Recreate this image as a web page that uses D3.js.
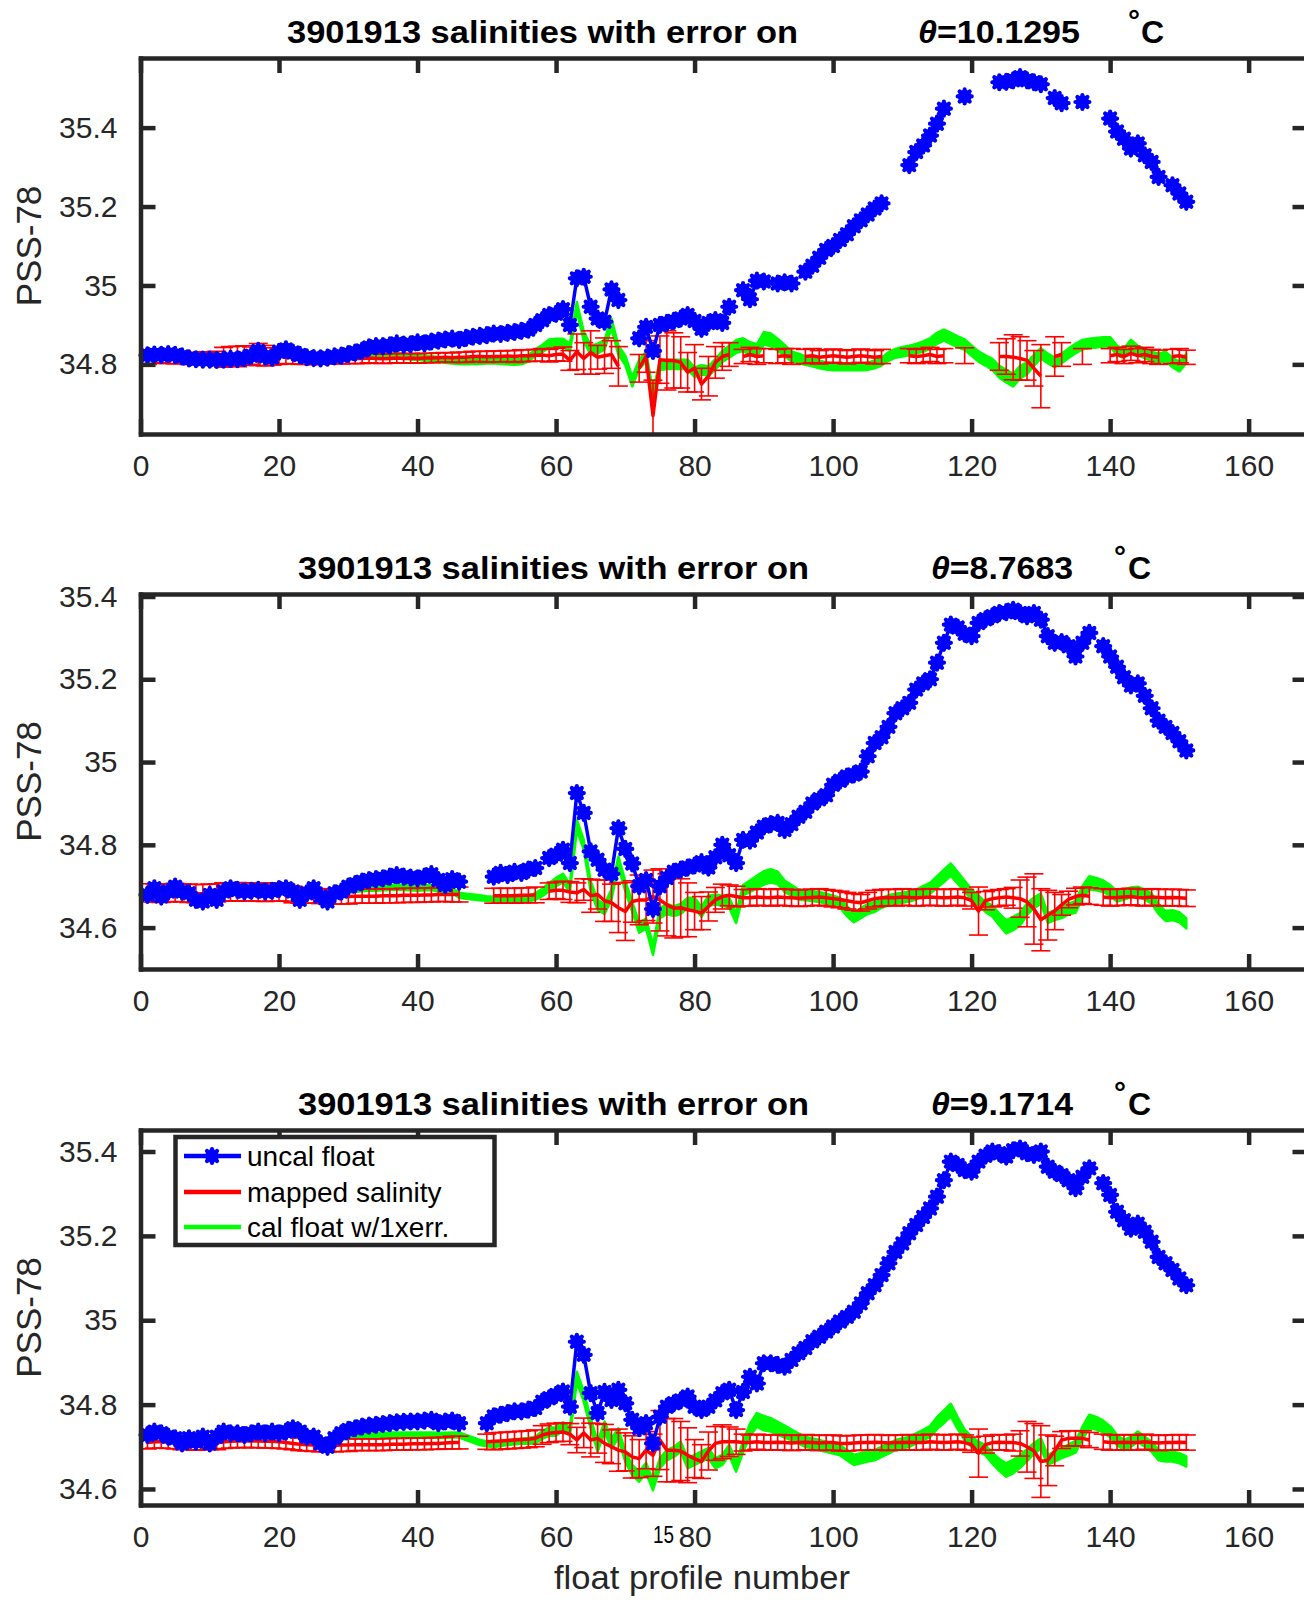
<!DOCTYPE html>
<html><head><meta charset="utf-8">
<script src="https://cdn.jsdelivr.net/npm/d3@7"></script>
<style>body{margin:0;background:#fff;}svg{display:block;}text{font-family:"Liberation Sans",Arial,Helvetica,sans-serif;}</style>
</head><body>
<script>
// ---------------- DATA ----------------
const profileNo = [1,2,3,4,5,6,7,8,9,10,11,12,13,14,15,16,17,18,19,20,21,22,23,24,25,26,27,28,29,30,31,32,33,34,35,36,37,38,39,40,41,42,43,44,45,46,47,48,49,50,51,52,53,54,55,56,57,58,59,60,61,62,63,64,65,66,67,68,69,70,71,72,73,74,75,76,77,78,79,80,81,82,83,84,85,86,87,88,89,90,91,92,93,94,95,96,97,98,99,100,101,102,103,104,105,106,107,108,109,110,111,112,113,114,115,116,117,118,119,120,121,122,123,124,125,126,127,128,129,130,131,132,133,134,135,136,137,138,139,140,141,142,143,144,145,146,147,148,149,150,151];
const xTicks = [0,20,40,60,80,100,120,140,160];
const xTickLabels = ["0","20","40","60","80","100","120","140","160"];
const titleMain = "3901913 salinities with error on";
const thetaVals = ["10.1295","8.7683","9.1714"];
const yTicks1 = [34.8,35,35.2,35.4];
const yTicks2 = [34.6,34.8,35,35.2,35.4];
const yTicks3 = [34.6,34.8,35,35.2,35.4];
const yTickLabels1 = ["34.8","35","35.2","35.4"];
const yTickLabels2 = ["34.6","34.8","35","35.2","35.4"];
const yTickLabels3 = ["34.6","34.8","35","35.2","35.4"];
const legendLabels = ["uncal float","mapped salinity","cal float w/1xerr."];

// Panel 1 (theta = 10.1295)
const p1Uncal = [34.823,34.825,34.824,34.826,34.824,34.82,34.815,34.813,34.812,34.812,
34.811,34.812,34.814,34.813,34.816,34.822,34.834,34.82,34.817,34.832,
34.838,34.83,34.824,34.818,34.816,34.815,34.817,34.82,34.822,34.826,
34.83,34.835,34.843,34.846,34.846,34.848,34.853,34.85,34.851,34.856,
34.853,34.858,34.86,34.863,34.865,34.862,34.867,34.87,34.872,34.874,
34.878,34.877,34.88,34.882,34.885,34.888,34.9,34.912,34.925,34.928,
34.94,34.9,35.018,35.022,34.946,34.916,34.908,34.99,34.963,null,
null,34.866,34.895,34.834,34.9,34.905,34.91,34.916,34.925,34.91,
34.89,34.905,34.912,34.905,34.946,null,34.988,34.965,35.012,35.01,
null,35.005,35.008,35.005,null,35.035,35.05,35.07,35.09,35.1,
35.115,35.13,35.15,35.165,35.18,35.195,35.208,null,null,null,
35.305,35.338,35.355,35.38,35.41,35.448,null,null,35.479,null,
null,null,null,35.515,35.516,35.52,35.528,35.52,35.515,35.51,
null,35.475,35.462,null,null,35.465,null,null,null,35.423,
35.39,35.372,35.347,35.36,35.33,35.313,35.275,null,35.254,35.233,35.212];
const p1Mapped = [34.818,34.82,34.82,34.818,34.816,34.817,34.815,34.815,34.816,34.815,
34.815,34.818,34.82,34.82,34.822,34.822,34.825,34.822,34.82,34.82,
34.818,34.817,34.815,34.815,34.814,34.815,34.815,34.816,34.815,34.815,
34.815,34.815,34.816,34.815,34.814,34.815,34.816,34.815,34.816,34.815,
34.816,34.816,34.817,34.818,34.817,34.818,34.818,34.82,34.82,34.819,
34.82,34.82,34.821,34.82,34.822,34.822,34.823,34.824,34.822,34.825,
34.826,34.81,34.832,34.815,34.83,34.818,34.822,34.825,34.795,null,
null,34.79,34.82,34.67,34.812,34.81,34.81,34.805,34.78,34.79,
34.75,34.77,34.805,34.82,34.825,null,34.82,34.825,34.82,34.822,
null,34.82,34.822,34.82,null,34.82,34.822,34.818,34.82,34.822,
34.82,34.818,34.82,34.822,34.82,34.818,34.82,null,null,null,
34.822,34.82,34.822,34.825,34.82,34.822,null,null,34.822,null,
null,null,null,34.82,34.82,34.818,34.815,34.81,34.79,34.77,
null,34.82,34.825,null,null,34.82,null,null,null,34.822,
34.825,34.82,34.828,34.822,34.825,34.82,34.818,null,34.82,34.822,34.818];
const p1MapErr = [0.018,0.018,0.016,0.016,0.015,0.015,0.015,0.015,0.016,0.016,
0.018,0.025,0.025,0.026,0.025,0.022,0.028,0.026,0.022,0.02,
0.016,0.016,0.015,0.015,0.015,0.014,0.014,0.014,0.014,0.013,
0.013,0.013,0.012,0.012,0.012,0.012,0.012,0.012,0.012,0.012,
0.012,0.012,0.012,0.012,0.012,0.013,0.013,0.013,0.013,0.014,
0.014,0.014,0.014,0.015,0.015,0.015,0.015,0.016,0.016,0.016,
0.018,0.025,0.045,0.04,0.055,0.03,0.045,0.035,0.05,null,
null,0.035,0.04,0.09,0.06,0.075,0.07,0.065,0.05,0.06,
0.04,0.05,0.04,0.035,0.03,null,0.018,0.018,0.02,0.018,
null,0.018,0.018,0.02,null,0.018,0.018,0.017,0.017,0.017,
0.017,0.017,0.017,0.017,0.017,0.017,0.018,null,null,null,
0.018,0.018,0.018,0.018,0.018,0.018,null,null,0.02,null,
null,null,null,0.035,0.045,0.057,0.055,0.05,0.045,0.08,
null,0.05,0.03,null,null,0.02,null,null,null,0.018,
0.018,0.018,0.018,0.018,0.018,0.018,0.018,null,0.018,0.018,0.018];
const p1Cal = [34.82,34.822,34.821,34.822,34.82,34.818,34.815,34.813,34.812,34.812,
34.812,34.812,34.813,34.813,34.815,34.818,34.825,34.82,34.817,34.825,
34.828,34.825,34.82,34.816,34.815,34.814,34.815,34.816,34.818,34.82,
34.82,34.82,34.822,34.822,34.82,34.82,34.822,34.82,34.818,34.818,
34.815,34.815,34.812,34.81,34.808,34.807,34.806,34.807,34.807,34.808,
34.81,34.808,34.807,34.806,34.807,34.815,34.83,34.84,34.853,34.855,
34.855,34.843,34.946,34.871,34.836,34.84,34.85,34.904,34.836,34.81,
34.756,34.8,34.82,34.72,34.798,34.8,34.8,34.8,34.8,34.78,
34.786,34.783,34.8,34.82,34.832,34.845,34.85,34.84,34.835,34.866,
34.862,34.85,34.835,34.82,34.815,34.81,34.805,34.8,34.796,34.794,
34.794,34.794,34.794,34.794,34.795,34.8,34.807,34.82,34.828,34.832,
34.835,34.84,34.845,34.853,34.866,34.874,34.866,34.857,34.85,34.835,
34.82,34.81,34.8,34.781,34.77,34.76,34.78,34.79,34.81,34.828,
34.815,34.805,34.815,34.828,34.84,34.85,34.853,34.855,34.857,34.857,
34.835,34.828,34.85,34.835,34.828,34.82,34.815,34.82,34.805,34.794,34.815];
const p1CalErr = [0.006,0.006,0.006,0.006,0.006,0.006,0.006,0.006,0.006,0.006,
0.006,0.006,0.006,0.006,0.006,0.006,0.006,0.006,0.006,0.006,
0.006,0.006,0.006,0.006,0.006,0.006,0.006,0.006,0.006,0.006,
0.006,0.006,0.006,0.006,0.006,0.006,0.006,0.006,0.006,0.006,
0.006,0.006,0.006,0.006,0.006,0.006,0.006,0.006,0.006,0.006,
0.007,0.007,0.007,0.007,0.007,0.008,0.008,0.009,0.01,0.01,
0.01,0.01,0.012,0.012,0.012,0.012,0.012,0.012,0.012,0.012,
0.012,0.012,0.012,0.012,0.012,0.012,0.012,0.012,0.012,0.012,
0.012,0.012,0.013,0.014,0.015,0.016,0.016,0.016,0.016,0.016,
0.016,0.015,0.014,0.013,0.012,0.011,0.01,0.01,0.009,0.009,
0.009,0.009,0.009,0.009,0.009,0.01,0.01,0.011,0.011,0.012,
0.012,0.012,0.013,0.013,0.014,0.014,0.014,0.014,0.013,0.013,
0.013,0.013,0.014,0.015,0.016,0.016,0.016,0.015,0.014,0.013,
0.012,0.012,0.012,0.012,0.012,0.012,0.012,0.012,0.012,0.012,
0.012,0.012,0.012,0.012,0.012,0.012,0.012,0.012,0.012,0.012,0.012];

// Panel 2 (theta = 8.7683)
const p2Uncal = [34.679,34.695,34.675,34.687,34.699,34.687,34.683,34.667,34.663,34.679,
34.667,34.687,34.695,34.691,34.687,34.689,34.691,34.687,34.689,34.693,
34.695,34.687,34.667,34.683,34.695,34.675,34.663,34.683,34.687,34.699,
34.705,34.711,34.715,34.717,34.719,34.723,34.727,34.723,34.721,34.719,
34.723,34.729,34.715,34.703,34.717,34.711,null,null,null,null,
34.723,34.732,34.727,34.735,34.732,34.74,34.744,null,34.768,34.776,
34.788,34.756,34.925,34.877,34.784,34.764,34.74,34.73,34.84,34.79,
34.755,34.7,34.715,34.645,34.7,34.72,34.735,34.74,34.745,34.75,
34.758,34.745,34.77,34.8,34.775,34.756,34.812,34.81,34.83,34.844,
34.85,34.853,34.836,34.85,34.868,34.88,34.9,34.91,34.92,34.945,
34.955,34.965,34.97,34.977,35.014,35.046,35.06,35.085,35.118,35.13,
35.143,35.175,35.19,35.2,35.24,35.288,35.332,35.325,35.31,35.304,
35.336,35.345,35.352,35.36,35.362,35.368,35.36,35.352,35.36,35.344,
35.304,35.288,35.29,35.28,35.255,35.288,35.312,null,35.28,35.255,
35.23,35.205,35.185,35.19,35.16,35.13,35.1,35.085,35.07,35.05,35.028];
const p2Mapped = [34.684,34.684,34.683,34.684,34.685,34.684,34.683,34.682,34.682,34.683,
34.684,34.686,34.686,34.687,34.686,34.686,34.686,34.685,34.686,34.686,
34.684,34.68,34.678,34.678,34.677,34.676,34.675,34.675,34.675,34.675,
34.676,34.676,34.676,34.676,34.677,34.677,34.677,34.678,34.678,34.678,
34.679,34.679,34.68,34.68,34.68,34.68,null,null,null,null,
34.677,34.677,34.677,34.677,34.678,34.678,34.679,null,34.688,34.69,
34.69,34.686,34.684,34.692,34.677,34.68,34.665,34.66,34.648,34.639,
34.663,34.667,34.667,34.675,34.667,34.655,34.647,34.648,34.643,34.64,
34.635,34.651,34.667,34.675,34.678,34.675,34.672,34.672,34.674,34.673,
34.672,34.674,34.673,34.672,34.671,34.672,34.673,34.674,34.672,34.67,
34.668,34.665,34.662,34.66,34.665,34.67,34.672,34.673,34.672,34.674,
34.673,34.672,34.673,34.674,34.673,34.672,34.673,34.674,34.672,34.665,
34.64,34.665,34.67,34.672,34.674,34.672,34.67,34.662,34.645,34.619,
34.63,34.64,34.655,34.668,34.675,34.678,34.676,null,34.674,34.672,
34.673,34.674,34.675,34.673,34.672,34.674,34.673,34.672,34.673,34.672,34.671];
const p2MapErr = [0.022,0.022,0.022,0.022,0.022,0.022,0.022,0.022,0.022,0.022,
0.022,0.022,0.022,0.022,0.022,0.022,0.022,0.022,0.022,0.022,
0.02,0.02,0.019,0.019,0.018,0.018,0.018,0.018,0.018,0.018,
0.017,0.017,0.017,0.017,0.017,0.017,0.017,0.017,0.017,0.017,
0.017,0.017,0.017,0.017,0.018,0.018,null,null,null,null,
0.018,0.018,0.018,0.018,0.018,0.018,0.019,null,0.02,0.02,
0.022,0.025,0.024,0.026,0.04,0.035,0.05,0.045,0.06,0.07,
0.05,0.06,0.05,0.064,0.075,0.075,0.072,0.07,0.065,0.045,
0.04,0.035,0.03,0.03,0.025,0.025,0.02,0.02,0.02,0.02,
0.02,0.02,0.02,0.02,0.02,0.02,0.02,0.02,0.02,0.02,
0.02,0.02,0.02,0.02,0.02,0.02,0.02,0.02,0.02,0.02,
0.02,0.02,0.02,0.02,0.02,0.02,0.02,0.02,0.02,0.02,
0.058,0.022,0.02,0.02,0.02,0.025,0.045,0.06,0.085,0.075,
0.06,0.045,0.025,0.02,0.02,0.02,0.02,null,0.02,0.02,
0.02,0.02,0.02,0.02,0.02,0.02,0.02,0.02,0.02,0.02,0.02];
const p2Cal = [34.682,34.69,34.678,34.685,34.692,34.685,34.683,34.672,34.668,34.68,
34.672,34.686,34.69,34.688,34.686,34.687,34.688,34.686,34.687,34.689,
34.69,34.686,34.672,34.682,34.69,34.676,34.668,34.682,34.685,34.69,
34.692,34.694,34.695,34.695,34.696,34.697,34.698,34.697,34.696,34.695,
34.696,34.697,34.693,34.69,34.69,34.678,34.676,34.674,34.672,34.67,
34.669,34.668,34.668,34.668,34.668,34.67,34.675,34.685,34.698,34.71,
34.72,34.695,34.848,34.8,34.7,34.655,34.645,34.68,34.76,34.7,
34.65,34.6,34.61,34.546,34.635,34.645,34.64,34.645,34.66,34.66,
34.638,34.665,34.668,34.665,34.66,34.623,34.69,34.7,34.71,34.72,
34.725,34.72,34.7,34.69,34.68,34.678,34.676,34.674,34.67,34.665,
34.66,34.64,34.625,34.635,34.645,34.65,34.66,34.666,34.67,34.672,
34.675,34.68,34.688,34.695,34.71,34.725,34.74,34.72,34.7,34.68,
34.665,34.65,34.64,34.62,34.602,34.61,34.62,34.645,34.66,34.67,
34.623,34.63,34.635,34.645,34.65,34.685,34.708,34.705,34.7,34.69,
34.675,34.68,34.685,34.687,34.68,34.67,34.645,34.628,34.63,34.625,34.61];
const p2CalErr = [0.006,0.006,0.006,0.006,0.006,0.006,0.006,0.006,0.006,0.006,
0.006,0.006,0.006,0.006,0.006,0.006,0.006,0.006,0.006,0.006,
0.006,0.006,0.006,0.006,0.006,0.006,0.006,0.006,0.006,0.006,
0.006,0.006,0.006,0.006,0.006,0.006,0.006,0.006,0.006,0.006,
0.006,0.006,0.006,0.006,0.006,0.006,0.006,0.006,0.006,0.006,
0.006,0.006,0.006,0.006,0.006,0.007,0.008,0.009,0.01,0.01,
0.01,0.01,0.012,0.012,0.012,0.012,0.012,0.012,0.012,0.012,
0.012,0.012,0.012,0.012,0.012,0.012,0.012,0.012,0.012,0.012,
0.012,0.012,0.012,0.012,0.012,0.012,0.013,0.014,0.015,0.016,
0.016,0.015,0.014,0.013,0.012,0.012,0.012,0.012,0.012,0.012,
0.012,0.012,0.012,0.012,0.012,0.012,0.012,0.012,0.012,0.012,
0.012,0.012,0.012,0.013,0.014,0.015,0.015,0.014,0.013,0.012,
0.012,0.012,0.013,0.014,0.016,0.016,0.015,0.014,0.013,0.012,
0.012,0.012,0.012,0.013,0.014,0.015,0.016,0.015,0.014,0.013,
0.012,0.012,0.012,0.012,0.012,0.012,0.012,0.012,0.012,0.012,0.012];

// Panel 3 (theta = 9.1714)
const p3Uncal = [34.728,34.736,34.732,34.724,34.72,34.708,34.72,34.712,34.724,34.708,
34.724,34.736,34.732,34.732,34.728,34.732,34.736,34.732,34.736,34.732,
34.736,34.744,34.736,34.724,34.724,34.708,34.7,34.72,34.732,34.74,
34.744,34.748,34.75,34.752,34.754,34.756,34.758,34.759,34.76,34.76,
34.762,34.764,34.756,34.76,34.762,34.756,null,null,null,34.756,
34.772,34.776,34.78,34.784,34.784,34.788,34.792,34.807,34.815,34.823,
34.831,34.795,34.949,34.918,34.827,34.78,34.83,34.811,34.835,34.803,
34.764,34.744,34.756,34.708,34.771,34.795,34.803,34.81,34.819,34.795,
34.787,34.795,34.81,34.827,34.835,34.787,34.83,34.866,34.85,34.898,
34.898,34.894,34.89,34.906,34.922,34.934,34.95,34.961,34.973,34.985,
34.997,35.008,35.02,35.04,35.064,35.083,35.107,35.135,35.162,35.182,
35.206,35.226,35.245,35.265,35.293,35.332,35.376,35.368,35.356,35.352,
35.376,35.39,35.4,35.396,35.388,35.403,35.407,35.396,35.392,35.4,
35.364,35.352,35.344,35.332,35.313,35.34,35.36,null,35.325,35.297,
35.257,35.237,35.217,35.229,35.21,35.186,35.15,35.135,35.119,35.099,35.083];
const p3Mapped = [34.71,34.712,34.712,34.711,34.71,34.708,34.708,34.707,34.708,34.708,
34.709,34.712,34.713,34.714,34.714,34.714,34.714,34.713,34.713,34.712,
34.71,34.708,34.706,34.705,34.704,34.703,34.703,34.703,34.704,34.704,
34.705,34.705,34.705,34.705,34.705,34.706,34.706,34.706,34.707,34.707,
34.707,34.708,34.708,34.709,34.71,34.71,null,null,null,34.712,
34.713,34.714,34.715,34.716,34.717,34.718,34.72,34.728,34.732,34.734,
34.735,34.73,34.716,34.733,34.716,34.72,34.708,34.7,34.692,34.688,
34.676,34.672,34.692,34.68,34.716,34.692,34.692,34.69,34.68,34.672,
34.665,34.69,34.708,34.712,34.712,34.712,34.71,34.71,34.712,34.71,
34.71,34.711,34.71,34.709,34.71,34.711,34.71,34.709,34.71,34.71,
34.708,34.708,34.709,34.71,34.71,34.711,34.71,34.709,34.71,34.71,
34.711,34.71,34.71,34.712,34.711,34.71,34.711,34.712,34.71,34.705,
34.685,34.705,34.71,34.711,34.71,34.71,34.708,34.7,34.69,34.665,
34.668,34.69,34.716,34.72,34.72,34.72,34.716,null,34.712,34.71,
34.71,34.711,34.71,34.71,34.712,34.71,34.709,34.71,34.71,34.711,34.71];
const p3MapErr = [0.015,0.015,0.015,0.015,0.015,0.015,0.015,0.015,0.015,0.015,
0.016,0.016,0.016,0.016,0.016,0.016,0.016,0.016,0.016,0.016,
0.015,0.015,0.015,0.015,0.015,0.015,0.015,0.015,0.015,0.015,
0.014,0.014,0.014,0.014,0.014,0.014,0.014,0.014,0.014,0.014,
0.014,0.014,0.014,0.014,0.015,0.015,null,null,null,0.018,
0.02,0.02,0.02,0.02,0.02,0.02,0.02,0.022,0.022,0.022,
0.022,0.025,0.03,0.035,0.04,0.035,0.045,0.04,0.05,0.045,
0.05,0.045,0.044,0.05,0.07,0.075,0.075,0.07,0.065,0.045,
0.04,0.045,0.04,0.04,0.035,0.03,0.02,0.018,0.018,0.018,
0.018,0.018,0.018,0.018,0.018,0.018,0.018,0.018,0.018,0.018,
0.018,0.018,0.018,0.018,0.018,0.018,0.018,0.018,0.018,0.018,
0.018,0.018,0.018,0.018,0.018,0.018,0.018,0.018,0.018,0.018,
0.057,0.02,0.018,0.018,0.018,0.02,0.03,0.06,0.065,0.085,
0.06,0.035,0.02,0.018,0.018,0.018,0.018,null,0.018,0.018,
0.018,0.018,0.018,0.018,0.018,0.018,0.018,0.018,0.018,0.018,0.018];
const p3Cal = [34.722,34.728,34.726,34.72,34.717,34.71,34.716,34.712,34.72,34.71,
34.72,34.728,34.726,34.726,34.724,34.726,34.728,34.726,34.728,34.726,
34.728,34.732,34.728,34.72,34.72,34.71,34.706,34.716,34.722,34.726,
34.726,34.726,34.727,34.727,34.727,34.728,34.728,34.728,34.728,34.728,
34.728,34.728,34.727,34.727,34.728,34.728,34.722,34.716,34.71,34.707,
34.705,34.708,34.71,34.712,34.713,34.714,34.716,34.728,34.736,34.736,
34.748,34.736,34.866,34.819,34.756,34.7,34.748,34.708,34.732,34.676,
34.645,34.629,34.65,34.609,34.661,34.68,34.688,34.7,34.661,34.669,
34.677,34.685,34.661,34.669,34.692,34.653,34.7,34.74,34.764,34.756,
34.752,34.744,34.736,34.728,34.72,34.712,34.708,34.704,34.7,34.696,
34.692,34.68,34.669,34.673,34.677,34.68,34.688,34.696,34.704,34.708,
34.712,34.72,34.728,34.736,34.756,34.771,34.787,34.756,34.728,34.712,
34.7,34.692,34.673,34.657,34.645,34.653,34.665,34.68,34.696,34.708,
34.669,34.677,34.685,34.692,34.7,34.732,34.76,34.756,34.748,34.736,
34.716,34.704,34.712,34.724,34.712,34.7,34.68,34.677,34.677,34.673,34.665];
const p3CalErr = [0.006,0.006,0.006,0.006,0.006,0.006,0.006,0.006,0.006,0.006,
0.006,0.006,0.006,0.006,0.006,0.006,0.006,0.006,0.006,0.006,
0.006,0.006,0.006,0.006,0.006,0.006,0.006,0.006,0.006,0.006,
0.006,0.006,0.006,0.006,0.006,0.006,0.006,0.006,0.006,0.006,
0.006,0.006,0.006,0.006,0.006,0.006,0.006,0.006,0.006,0.006,
0.006,0.006,0.006,0.006,0.006,0.007,0.008,0.009,0.01,0.01,
0.01,0.01,0.012,0.012,0.012,0.012,0.012,0.012,0.012,0.012,
0.012,0.012,0.012,0.012,0.012,0.012,0.012,0.012,0.012,0.012,
0.012,0.012,0.012,0.012,0.012,0.012,0.013,0.015,0.016,0.017,
0.016,0.015,0.014,0.013,0.012,0.012,0.012,0.012,0.012,0.012,
0.012,0.012,0.012,0.012,0.012,0.012,0.012,0.012,0.012,0.012,
0.012,0.012,0.012,0.013,0.014,0.015,0.015,0.014,0.013,0.012,
0.012,0.012,0.013,0.014,0.016,0.016,0.015,0.014,0.013,0.012,
0.012,0.012,0.012,0.013,0.014,0.015,0.016,0.015,0.014,0.013,
0.012,0.012,0.012,0.012,0.012,0.012,0.012,0.012,0.012,0.012,0.012];

// ---------------- LAYOUT / STYLE ----------------
const AX = "#262626", BLUE = "#0000ff", RED = "#ff0000", GREEN = "#00ff00";
const panels = [
  {top:58, bottom:434, dom:[34.6235,35.5765], ticks:yTicks1, labels:yTickLabels1,
   uncal:p1Uncal, mapped:p1Mapped, mapErr:p1MapErr, cal:p1Cal, calErr:p1CalErr,
   tx:[287,918,1128,1141], tw:[511,162]},
  {top:594, bottom:969, dom:[34.5,35.406], ticks:yTicks2, labels:yTickLabels2,
   uncal:p2Uncal, mapped:p2Mapped, mapErr:p2MapErr, cal:p2Cal, calErr:p2CalErr,
   tx:[298,931,1114,1128], tw:[511,142]},
  {top:1130, bottom:1505, dom:[34.562,35.451], ticks:yTicks3, labels:yTickLabels3,
   uncal:p3Uncal, mapped:p3Mapped, mapErr:p3MapErr, cal:p3Cal, calErr:p3CalErr,
   tx:[298,931,1114,1128], tw:[511,142]}
];

const svg = d3.select("body").append("svg").attr("width",1304).attr("height",1600);
svg.append("rect").attr("width",1304).attr("height",1600).attr("fill","#fff");
const x = d3.scaleLinear().domain([0,168.5]).range([140.5,1307.5]);
const starPath = "M-7,0H7M0,-7V7M-5,-5L5,5M-5,5L5,-5";

function styleAxis(g){
  g.attr("font-family",'"Liberation Sans",Arial,sans-serif').attr("font-size",30);
  g.select(".domain").attr("stroke",AX).attr("stroke-width",4.5).attr("stroke-linecap","square");
  g.selectAll(".tick line").attr("stroke",AX).attr("stroke-width",4.5);
  g.selectAll(".tick text").attr("fill",AX);
}
function drawMarker(sel){
  sel.append("circle").attr("r",6.8).attr("fill",BLUE);
  sel.append("path").attr("d",starPath).attr("fill","none").attr("stroke",BLUE)
    .attr("stroke-width",4.2).attr("stroke-linecap","round");
}

panels.forEach((P,i)=>{
  const y = d3.scaleLinear().domain(P.dom).range([P.bottom,P.top]);
  const clipId = "clip"+i;
  svg.append("clipPath").attr("id",clipId).append("rect")
    .attr("x",x.range()[0]).attr("y",P.top)
    .attr("width",x.range()[1]-x.range()[0]).attr("height",P.bottom-P.top);
  const dg = svg.append("g").attr("clip-path",`url(#${clipId})`);

  // green band (cal float with 1x error)
  const calPts = profileNo.map((p,j)=>({p, v:P.cal[j], e:P.calErr[j]})).filter(d=>d.v!=null);
  dg.append("path").datum(calPts)
    .attr("d", d3.area().x(d=>x(d.p)).y0(d=>y(d.v-d.e)).y1(d=>y(d.v+d.e)))
    .attr("fill",GREEN).attr("stroke",GREEN).attr("stroke-width",2.5).attr("stroke-linejoin","round");

  // red mapped salinity + error bars
  const mapPts = profileNo.map((p,j)=>({p, v:P.mapped[j], e:P.mapErr[j]}));
  const eb = mapPts.filter(d=>d.v!=null && d.e!=null);
  const ebg = dg.append("g").attr("stroke",RED).attr("stroke-width",1.6);
  ebg.selectAll("line.stem").data(eb).join("line").attr("class","stem")
    .attr("x1",d=>x(d.p)).attr("x2",d=>x(d.p)).attr("y1",d=>y(d.v-d.e)).attr("y2",d=>y(d.v+d.e));
  ebg.selectAll("line.capt").data(eb).join("line").attr("class","capt")
    .attr("x1",d=>x(d.p)-9.5).attr("x2",d=>x(d.p)+9.5).attr("y1",d=>y(d.v+d.e)).attr("y2",d=>y(d.v+d.e));
  ebg.selectAll("line.capb").data(eb).join("line").attr("class","capb")
    .attr("x1",d=>x(d.p)-9.5).attr("x2",d=>x(d.p)+9.5).attr("y1",d=>y(d.v-d.e)).attr("y2",d=>y(d.v-d.e));
  dg.append("path").datum(mapPts)
    .attr("d", d3.line().defined(d=>d.v!=null).x(d=>x(d.p)).y(d=>y(d.v)))
    .attr("fill","none").attr("stroke",RED).attr("stroke-width",3.5).attr("stroke-linejoin","round");

  // blue uncal float
  const unPts = profileNo.map((p,j)=>({p, v:P.uncal[j]}));
  dg.append("path").datum(unPts)
    .attr("d", d3.line().defined(d=>d.v!=null).x(d=>x(d.p)).y(d=>y(d.v)))
    .attr("fill","none").attr("stroke",BLUE).attr("stroke-width",3.5).attr("stroke-linejoin","round");
  svg.append("g").selectAll("g").data(unPts.filter(d=>d.v!=null)).join("g")
    .attr("transform",d=>`translate(${x(d.p)},${y(d.v)})`).call(drawMarker);

  // axes (box)
  const gB = svg.append("g").attr("transform",`translate(0,${P.bottom})`)
    .call(d3.axisBottom(x).tickValues(xTicks).tickFormat((d,k)=>xTickLabels[k]).tickSize(-15).tickSizeOuter(0).tickPadding(21));
  styleAxis(gB);
  const gT = svg.append("g").attr("transform",`translate(0,${P.top})`)
    .call(d3.axisTop(x).tickValues(xTicks).tickFormat("").tickSize(-15).tickSizeOuter(0));
  styleAxis(gT);
  const gL = svg.append("g").attr("transform",`translate(${x.range()[0]},0)`)
    .call(d3.axisLeft(y).tickValues(P.ticks).tickFormat((d,k)=>P.labels[k]).tickSize(-15).tickSizeOuter(0).tickPadding(23));
  styleAxis(gL);
  const gR = svg.append("g").attr("transform",`translate(${x.range()[1]},0)`)
    .call(d3.axisRight(y).tickValues(P.ticks).tickFormat("").tickSize(-15).tickSizeOuter(0));
  styleAxis(gR);

  // y label
  svg.append("text").attr("transform",`translate(41,${(P.top+P.bottom)/2}) rotate(-90)`)
    .attr("text-anchor","middle").attr("font-size",35).attr("fill",AX).text("PSS-78");

  // title
  const ty = P.top-15;
  const tg = svg.append("g").attr("font-weight","bold").attr("fill","#000");
  tg.append("text").attr("x",P.tx[0]).attr("y",ty).attr("font-size",32)
    .attr("textLength",P.tw[0]).attr("lengthAdjust","spacingAndGlyphs").text(titleMain);
  const th = tg.append("text").attr("x",P.tx[1]).attr("y",ty).attr("font-size",32)
    .attr("textLength",P.tw[1]).attr("lengthAdjust","spacingAndGlyphs");
  th.append("tspan").attr("font-style","italic").text("\u03B8");
  th.append("tspan").text("="+thetaVals[i]);
  tg.append("text").attr("x",P.tx[2]).attr("y",P.top-27).attr("font-size",30).text("\u00B0");
  tg.append("text").attr("x",P.tx[3]).attr("y",ty).attr("font-size",32).text("C");
});

// x label
svg.append("text").attr("x",702).attr("y",1589).attr("text-anchor","middle").attr("font-size",33)
  .attr("fill",AX).attr("textLength",296).attr("lengthAdjust","spacingAndGlyphs").text("float profile number");
// stray page number
svg.append("text").attr("x",653).attr("y",1543).attr("font-size",23)
  .attr("font-family",'"Liberation Serif","Times New Roman",serif').attr("fill","#000")
  .attr("textLength",21).attr("lengthAdjust","spacingAndGlyphs").text("15");

// legend (panel 3)
const lg = svg.append("g");
lg.append("rect").attr("x",175.5).attr("y",1137).attr("width",319).attr("height",108)
  .attr("fill","#fff").attr("stroke",AX).attr("stroke-width",4.5);
const legColors = [BLUE, RED, GREEN];
const legRowsY = [1156, 1192, 1227];
legendLabels.forEach((lab,k)=>{
  lg.append("line").attr("x1",184).attr("x2",241).attr("y1",legRowsY[k]).attr("y2",legRowsY[k])
    .attr("stroke",legColors[k]).attr("stroke-width",4.5);
  if(k===0){
    lg.append("g").attr("transform",`translate(212,${legRowsY[k]})`).call(drawMarker);
  }
  lg.append("text").attr("x",247).attr("y",legRowsY[k]+10).attr("font-size",28).attr("fill","#000").text(lab);
});
</script>
</body></html>
